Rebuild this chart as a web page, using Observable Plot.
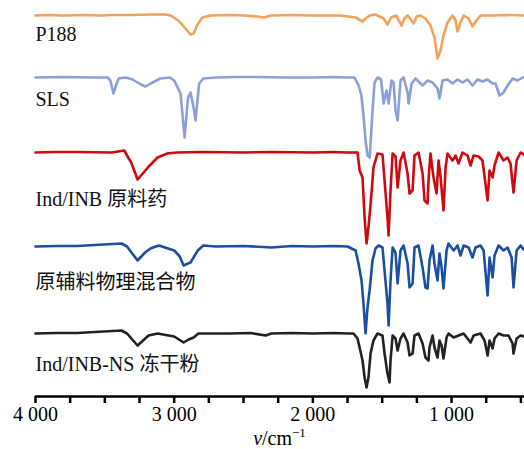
<!DOCTYPE html>
<html>
<head>
<meta charset="utf-8">
<script src="https://cdn.jsdelivr.net/npm/d3@7"></script>
<script src="https://cdn.jsdelivr.net/npm/@observablehq/plot@0.6"></script>
<style>
  html, body { margin: 0; padding: 0; background: #fff; }
  #chart { width: 524px; height: 449px; }
</style>
</head>
<body>
<div id="chart"></div>
<script>
// Series names, colours and vertical offsets (a.u.) for the stacked FTIR spectra
const seriesNames = ["P188", "SLS", "Ind/INB 原料药", "原辅料物理混合物", "Ind/INB-NS 冻干粉"];
const seriesColors = ["#f6a15a", "#8c9fd6", "#cc0a10", "#1b4f9f", "#222222"];
const seriesOffsets = [381, 319, 244, 150, 63];
const labelLevels = [356, 291, 191, 108, 26];

// [wavenumber (cm-1), relative transmittance (a.u., 0 = baseline)]
const p188 = [[4000,0],[3900,0.5],[3800,0],[3650,0.5],[3531,0],[3450,0.5],[3300,0.5],[3171,1],[3063,1],[3026,0],[2970,-5],[2918,-13],[2882,-19],[2860,-18],[2832,-9],[2796,-2],[2740,0],[2600,0.5],[2500,0],[2400,-1],[2356,-2],[2300,0],[2150,0.5],[2000,0],[1800,0],[1692,-2],[1642,-6],[1620,-3],[1590,0],[1548,1],[1490,-3],[1462,-9],[1435,-2],[1400,0],[1360,-10],[1340,-3],[1317,0],[1288,-5],[1274,-8],[1252,-1],[1224,0],[1188,-3],[1152,-10],[1123,-22],[1101,-43],[1079,-35],[1058,-20],[1029,-7],[993,0],[971,-5],[957,-16],[935,-7],[913,0],[877,-3],[849,-11],[820,-5],[791,0],[700,0],[600,0.5],[474,0]];

const sls = [[4000,0],[3800,0.5],[3600,0],[3480,0],[3460,-3],[3438,-16],[3420,-8],[3400,-1],[3350,0],[3300,-2],[3240,-7],[3207,-9],[3170,-6],[3100,-1],[3030,0],[3000,-3],[2954,-16],[2925,-60],[2900,-20],[2882,-15],[2860,-30],[2846,-43],[2820,-6],[2790,-1],[2700,0],[2550,0.5],[2400,0.5],[2200,0],[2000,0],[1850,0.5],[1750,0],[1700,0],[1670,-8],[1650,-18],[1635,-38],[1620,-63],[1606,-78],[1590,-80],[1570,-33],[1555,-5],[1534,0],[1508,-2],[1490,-26],[1469,-13],[1454,-26],[1433,-3],[1418,-5],[1404,-33],[1389,-43],[1368,-3],[1346,0],[1317,-15],[1310,-26],[1288,-6],[1260,-1],[1209,-8],[1173,-3],[1137,-5],[1101,-11],[1087,-21],[1065,-3],[1029,-2],[993,-6],[957,-2],[921,-5],[885,-2],[849,-8],[813,-2],[777,-4],[740,-2],[704,-6],[683,-6],[654,-18],[625,-15],[596,-8],[560,-1],[524,-3],[488,0],[474,0]];

const indInb = [[4000,0],[3850,0.5],[3700,0.5],[3450,0],[3360,2],[3340,-3],[3310,-10],[3264,-27],[3220,-20],[3190,-15],[3120,-5],[3050,-1],[2980,0],[2800,0.5],[2500,0],[2300,0.5],[2000,0],[1850,0.5],[1750,0],[1700,0],[1678,0],[1663,-18],[1642,-25],[1627,-65],[1613,-91],[1599,-75],[1577,-41],[1563,-15],[1534,-1],[1498,-2],[1483,-28],[1462,-65],[1454,-83],[1440,-38],[1425,-1],[1404,-4],[1389,-35],[1368,-8],[1346,0],[1317,-21],[1303,-41],[1281,-38],[1267,-3],[1238,0],[1209,-21],[1195,-48],[1173,-51],[1166,-28],[1152,-1],[1130,-25],[1108,-41],[1094,-8],[1079,-25],[1058,-58],[1043,-15],[1029,-1],[993,-8],[971,-3],[950,-11],[921,0],[885,-3],[863,-13],[841,-3],[805,-4],[777,-8],[740,-48],[726,-18],[704,-25],[690,-13],[661,0],[625,-8],[596,-5],[575,-11],[553,-40],[531,-8],[502,0],[481,-2],[474,-1]];

const mixture = [[4000,0],[3850,0.5],[3700,0.5],[3380,3],[3340,0],[3264,-14],[3210,-6],[3171,-2],[3110,1],[3000,-4],[2960,-10],[2932,-19],[2900,-17],[2882,-16],[2830,-4],[2790,1],[2700,0],[2500,0.5],[2300,-1],[2150,0.5],[2000,0],[1850,0.5],[1750,0],[1692,-4],[1671,-17],[1649,-34],[1635,-57],[1620,-87],[1606,-61],[1591,-44],[1570,-14],[1548,-2],[1527,1],[1498,-1],[1483,-24],[1462,-57],[1454,-79],[1440,-34],[1425,-1],[1404,-6],[1389,-37],[1368,-4],[1346,1],[1317,-17],[1303,-41],[1281,-37],[1267,-1],[1238,1],[1209,-21],[1188,-41],[1173,-42],[1159,-14],[1137,1],[1123,-17],[1101,-34],[1087,-7],[1072,-21],[1058,-42],[1036,-4],[1022,3],[985,-4],[957,1],[935,-9],[913,1],[877,-1],[849,-11],[827,-1],[791,1],[769,-4],[740,-49],[726,-11],[704,-31],[690,-9],[661,1],[625,-4],[596,-1],[567,-11],[553,-41],[531,-4],[502,1],[481,-3],[474,-2]];

const nsPowder = [[4000,0],[3850,0.5],[3700,0.5],[3380,3],[3340,0],[3264,-12],[3185,-2],[3120,0],[3000,-3],[2932,-9],[2896,-6],[2860,-4],[2825,0],[2600,0],[2450,0.5],[2340,-2],[2300,0],[2150,0.5],[2000,0],[1850,0.5],[1750,0],[1707,0],[1678,-5],[1663,-14],[1642,-27],[1627,-44],[1613,-54],[1599,-44],[1584,-20],[1563,-7],[1534,0],[1498,-2],[1483,-20],[1462,-40],[1447,-49],[1440,-27],[1425,-2],[1404,-5],[1389,-17],[1368,-5],[1346,0],[1317,-9],[1303,-22],[1281,-20],[1267,-2],[1238,0],[1209,-10],[1188,-24],[1166,-27],[1159,-14],[1137,-2],[1123,-14],[1101,-24],[1087,-7],[1072,-12],[1058,-25],[1036,-4],[1022,0],[985,-4],[950,-2],[913,0],[863,-9],[841,-2],[791,0],[762,-7],[740,-22],[726,-7],[704,-15],[690,-5],[661,0],[625,-2],[589,-2],[560,-10],[553,-20],[531,-5],[502,-2],[481,-3],[474,-2]];

const seriesData = [p188, sls, indInb, mixture, nsPowder];

// x-axis ticks
const tickValues = [4000, 3750, 3500, 3250, 3000, 2750, 2500, 2250, 2000, 1750, 1500, 1250, 1000, 750, 500];
const labeledTicks = [4000, 3000, 2000, 1000];
const xDomain = [4000, 474];

const table = seriesData.flatMap((d, i) =>
  d.map(([w, t]) => ({series: seriesNames[i], w, v: seriesOffsets[i] + t}))
);
const labels = seriesNames.map((name, i) => ({name, v: labelLevels[i]}));

const fontFamily = "'Liberation Serif', 'Times New Roman', 'Noto Sans CJK SC', serif";

const chart = Plot.plot({
  width: 524,
  height: 449,
  marginLeft: 35,
  marginRight: 0,
  marginTop: 0,
  marginBottom: 53,
  style: {fontFamily, fontSize: "20px", background: "#fff", color: "#000", overflow: "visible"},
  x: {domain: xDomain, axis: null},
  y: {domain: [0, 396], axis: null},
  color: {domain: seriesNames, range: seriesColors},
  marks: [
    Plot.line(table, {x: "w", y: "v", z: "series", stroke: "series", strokeWidth: 2.6, strokeLinejoin: "round", curve: "linear"}),
    Plot.text(labels, {x: xDomain[0], y: "v", text: "name", textAnchor: "start", lineAnchor: "bottom", fontSize: 20, fill: "#111"}),
    Plot.ruleX(tickValues, {x: d => d, y1: 0, y2: -7, stroke: "#000", strokeWidth: 2.5}),
    Plot.ruleY([0], {stroke: "#000", strokeWidth: 2.4}),
    Plot.axisX({
      ticks: tickValues,
      tickSize: 0,
      tickPadding: 10,
      fontSize: 20,
      label: null,
      tickFormat: d => labeledTicks.includes(d) ? d3.format(",")(d).replace(",", " ") : ""
    })
  ]
});

document.getElementById("chart").appendChild(chart);

const svgNode = chart.tagName.toLowerCase() === "svg" ? chart : chart.querySelector("svg");
const svg = d3.select(svgNode);
const xs = chart.scale("x");
const ys = chart.scale("y");
const axisY = ys.apply(0);

// axis title with italic ν and superscript −1
const cx = (xs.range[0] + xs.range[1]) / 2;
const title = svg.append("text")
  .attr("x", cx)
  .attr("y", axisY + 49)
  .attr("text-anchor", "middle")
  .attr("font-family", fontFamily)
  .attr("font-size", 20)
  .attr("fill", "#000");
title.append("tspan").attr("font-style", "italic").text("ν");
title.append("tspan").text("/cm");
title.append("tspan").attr("font-size", 13).attr("dy", -8).text("−1");
</script>
</body>
</html>
